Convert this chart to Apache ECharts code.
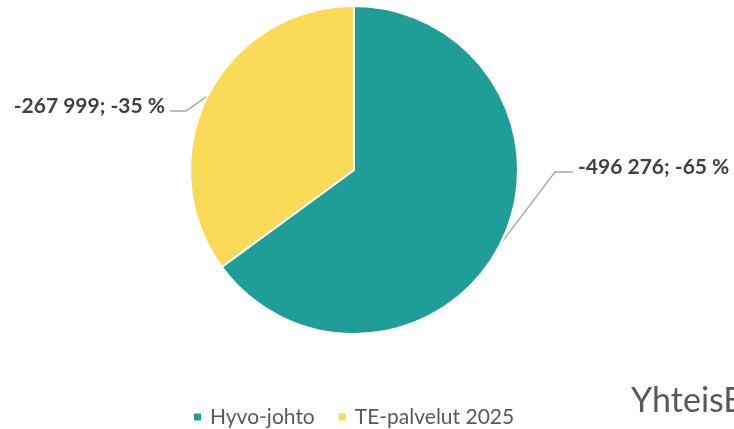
<!DOCTYPE html>
<html>
<head>
<meta charset="utf-8">
<script src="https://cdn.jsdelivr.net/npm/echarts@6/dist/echarts.min.js"></script>
<style>
html,body{margin:0;padding:0;background:#fff;}
#main{width:734px;height:429px;}
</style>
</head>
<body>
<div id="main"></div>
<script>
var names = ['Hyvo-johto', 'TE-palvelut 2025'];
var values = [-496276, -267999];
var colors = ['#1F9E98', '#FADB58'];

function fmtNum(v){
	var s = String(Math.abs(v)).replace(/\B(?=(\d{3})+(?!\d))/g, ' ');
	return (v < 0 ? '-' : '') + s;
}

var myChart = echarts.init(document.getElementById('main'));
var pieData = [];
for(var i=0;i<names.length;i++){
	pieData.push({name: names[i], value: Math.abs(values[i]), raw: values[i], itemStyle: {color: colors[i]}});
}

var option = {
	animation: false,
	legend: {
		data: names,
		left: 192,
		top: 406,
		padding: 0,
		icon: 'rect',
		itemWidth: 9,
		itemHeight: 9,
		itemGap: 22,
		textStyle: {fontFamily: 'Lato', fontSize: 21, lineHeight: 22, color: '#595959', padding: [0, 0, 0, 3]}
	},
	graphic: [{
		type: 'text',
		left: 631,
		top: 384,
		style: {text: 'YhteisB', fontFamily: 'Lato', fontSize: 34, fill: '#595959'}
	}],
	series: [{
		type: 'pie',
		center: [354, 170],
		radius: 164,
		startAngle: 90,
		data: pieData,
		itemStyle: {borderColor: '#fff', borderWidth: 2},
		label: {
			show: true,
			position: 'outside',
			overflow: 'none',
			fontFamily: 'Lato',
			fontWeight: 'bold',
			fontSize: 21,
			color: '#404040',
			formatter: function(p){
				return fmtNum(p.data.raw) + '; ' + (p.data.raw < 0 ? '-' : '') + Math.round(p.percent) + ' %';
			}
		},
		labelLine: {show: true, lineStyle: {color: '#A6A6A6', width: 1.3}},
		labelLayout: function(p){
			var s = p.labelLinePoints ? p.labelLinePoints[0] : [0,0];
			if(p.dataIndex === 0){
				return {x: 578, y: 167, align: 'left', verticalAlign: 'middle',
					labelLinePoints: [s, [555, 172], [573, 172]]};
			}
			return {x: 165, y: 106, align: 'right', verticalAlign: 'middle',
				labelLinePoints: [s, [186, 111], [170, 111]]};
		}
	}]
};
myChart.setOption(option);
</script>
</body>
</html>
